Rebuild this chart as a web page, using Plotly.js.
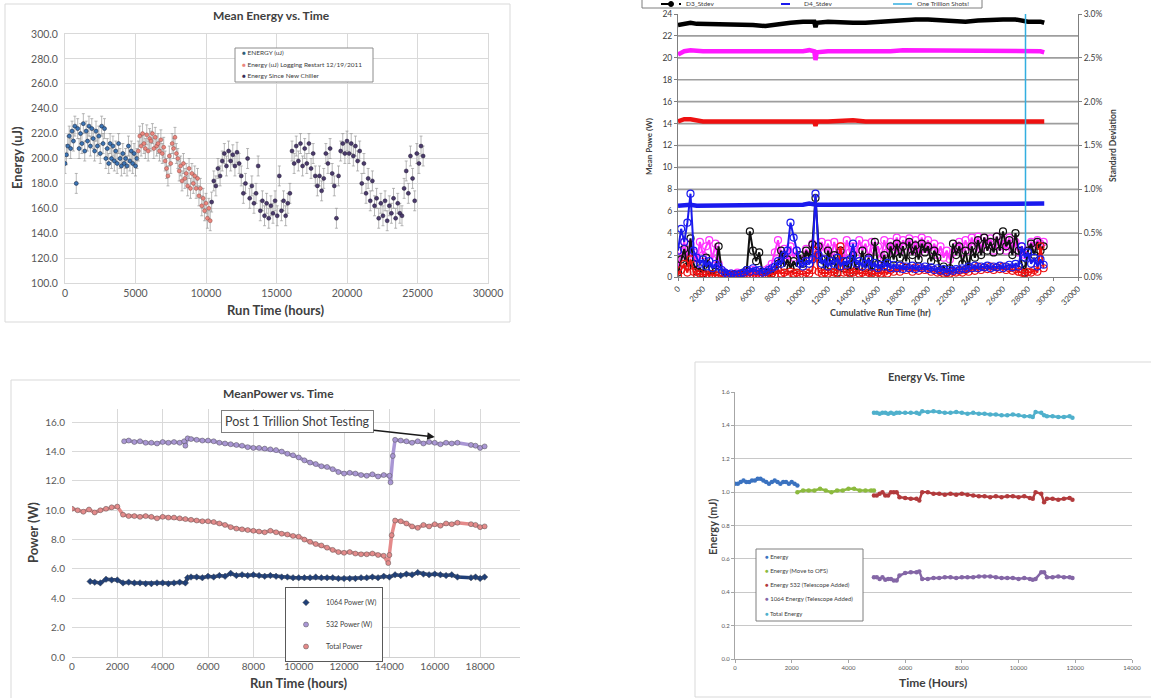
<!DOCTYPE html>
<html>
<head>
<meta charset="utf-8">
<script src="https://cdn.plot.ly/plotly-3.0.1.min.js"></script>
<style>html,body{margin:0;padding:0;background:#fff;}#chart{width:1151px;height:698px;}</style>
</head>
<body>
<div id="chart"></div>
<script>
// ---------------- Chart 1: Mean Energy vs. Time ----------------
const chart1Names = ["ENERGY (uJ)", "Energy (uJ) Logging Restart 12/19/2011", "Energy Since New Chiller"];
const energyHours = [0,100,200,300,400,500,600,700,800,900,1000,1100,1200,1300,1400,1500,1600,1700,1800,1900,2000,2100,2200,2300,2400,2500,2600,2700,2800,2900,3000,3100,3200,3300,3400,3500,3600,3700,3800,3900,4000,4100,4200,4300,4400,4500,4600,4700,4800,4900,5000,5100];
const energyUJ = [196,203,210,218,208,222,214,226,180,224,208,220,212,228,206,222,214,226,210,224,216,206,222,210,218,204,226,212,224,200,208,196,212,200,210,198,206,196,212,200,194,204,196,200,194,210,198,206,196,204,194,200];
const restartHours = [5200,5300,5400,5500,5600,5700,5800,5900,6000,6100,6200,6300,6400,6500,6600,6700,6800,6900,7000,7100,7200,7300,7400,7500,7600,7700,7800,7900,8000,8100,8200,8300,8400,8500,8600,8700,8800,8900,9000,9100,9200,9300,9400,9500,9600,9700,9800,9900,10000,10100,10200,10300];
const restartUJ = [206,218,210,220,212,208,219,206,216,214,220,208,217,210,212,206,215,204,209,198,192,186,202,196,212,208,217,204,200,190,194,182,196,184,188,178,192,176,188,180,186,176,184,170,176,162,168,158,164,152,160,150];
const chillerHours = [10400,10550,10700,10850,11000,11150,11300,11450,11600,11750,11900,12050,12200,12350,12500,12650,12800,12950,13100,13250,13400,13550,13700,13850,14000,14150,14300,14450,14600,14750,14900,15050,15200,15350,15500,15650,15800,15950,16100,16250,16400,16550,16700,16850,17000,17150,17300,17450,17600,17750,17900,18050,18200,18350,18500,18650,18800,18950,19100,19250,19400,19550,19700,19850,20000,20150,20300,20450,20600,20750,20900,21050,21200,21350,21500,21650,21800,21950,22100,22250,22400,22550,22700,22850,23000,23150,23300,23450,23600,23750,23900,24050,24200,24350,24500,24650,24800,24950,25100,25250,25400];
const chillerUJ = [165,182,178,192,186,198,204,194,206,198,203,194,205,196,186,172,180,200,168,178,164,172,194,158,166,154,164,152,162,156,166,154,186,158,166,154,164,172,206,196,210,198,212,194,208,196,212,192,204,186,178,186,174,184,204,196,208,188,178,152,186,206,212,204,214,204,212,202,210,198,206,180,196,172,184,166,182,162,168,152,164,154,166,150,162,156,168,152,164,156,154,176,190,172,202,184,166,204,196,210,202];

// ---------------- Chart 2: Mean power & standard deviation ----------------
const meanHours = [0,500,1000,1500,2000,3000,4000,5000,6000,7000,8000,9000,10000,10500,10900,11000,11100,12000,13000,14000,15000,16000,17000,18000,19000,20000,21000,22000,23000,24000,25000,26000,27000,28000,29000,29300];
const d3Mean = [23.0,23.1,23.2,23.1,23.1,23.0,23.0,23.0,23.0,22.9,23.1,23.2,23.3,23.3,23.3,22.8,23.2,23.3,23.2,23.2,23.2,23.3,23.4,23.5,23.5,23.5,23.4,23.3,23.3,23.4,23.5,23.5,23.5,23.3,23.3,23.2];
const d2Mean = [20.3,20.6,20.7,20.6,20.6,20.6,20.6,20.5,20.5,20.5,20.5,20.6,20.6,20.7,20.6,19.8,20.5,20.6,20.6,20.6,20.5,20.6,20.6,20.7,20.7,20.7,20.6,20.6,20.6,20.7,20.7,20.7,20.6,20.6,20.6,20.5];
const d1Mean = [14.2,14.4,14.4,14.3,14.2,14.2,14.2,14.2,14.2,14.2,14.2,14.3,14.3,14.2,14.2,13.8,14.2,14.2,14.3,14.3,14.2,14.2,14.2,14.2,14.2,14.2,14.2,14.2,14.2,14.2,14.2,14.2,14.2,14.2,14.2,14.2];
const d4Mean = [6.5,6.6,6.6,6.5,6.5,6.6,6.6,6.6,6.6,6.6,6.6,6.6,6.6,6.7,6.6,6.6,6.6,6.6,6.6,6.6,6.6,6.6,6.6,6.6,6.7,6.7,6.7,6.6,6.7,6.7,6.7,6.7,6.7,6.7,6.7,6.7];
const stdHours = [
  0,250,500,750,1000,1250,1500,1750,2000,2250,
  2500,2750,3000,3250,3500,3750,4000,4250,4500,4750,
  5000,5250,5500,5750,6000,6250,6500,6750,7000,7250,
  7500,7750,8000,8250,8500,8750,9000,9250,9500,9750,
  10000,10250,10500,10750,11000,11250,11500,11750,12000,12250,
  12500,12750,13000,13250,13500,13750,14000,14250,14500,14750,
  15000,15250,15500,15750,16000,16250,16500,16750,17000,17250,
  17500,17750,18000,18250,18500,18750,19000,19250,19500,19750,
  20000,20250,20500,20750,21000,21250,21500,21750,22000,22250,
  22500,22750,23000,23250,23500,23750,24000,24250,24500,24750,
  25000,25250,25500,25750,26000,26250,26500,26750,27000,27250,
  27500,27750,28000,28250,28500,28750,29000,29250];
const d3Std = [
  0.05,0.20,0.32,0.12,0.44,0.15,0.06,0.10,0.04,0.22,
  0.08,0.03,0.06,0.35,0.05,0.02,0.03,0.02,0.03,0.02,
  0.03,0.05,0.08,0.52,0.30,0.18,0.28,0.06,0.03,0.05,
  0.04,0.08,0.15,0.30,0.12,0.20,0.10,0.18,0.12,0.25,
  0.15,0.30,0.22,0.37,0.90,0.35,0.20,0.08,0.30,0.12,
  0.25,0.05,0.30,0.10,0.18,0.05,0.25,0.08,0.12,0.30,
  0.10,0.22,0.06,0.40,0.15,0.08,0.25,0.12,0.35,0.20,
  0.38,0.22,0.35,0.18,0.40,0.25,0.36,0.20,0.38,0.28,
  0.35,0.18,0.30,0.22,0.08,0.12,0.05,0.10,0.38,0.25,
  0.35,0.15,0.30,0.10,0.35,0.22,0.42,0.25,0.45,0.30,
  0.40,0.28,0.46,0.30,0.52,0.35,0.42,0.25,0.50,0.30,
  0.15,0.05,0.30,0.38,0.25,0.40,0.30,0.35];
const d2Std = [
  0.10,0.30,0.40,0.22,0.38,0.28,0.15,0.40,0.25,0.35,
  0.42,0.20,0.38,0.15,0.08,0.05,0.03,0.04,0.03,0.05,
  0.04,0.03,0.06,0.05,0.08,0.04,0.06,0.05,0.08,0.10,
  0.15,0.28,0.42,0.20,0.32,0.18,0.35,0.22,0.30,0.15,
  0.20,0.32,0.25,0.38,0.35,0.22,0.40,0.28,0.38,0.22,
  0.40,0.25,0.35,0.20,0.42,0.28,0.35,0.25,0.42,0.30,
  0.38,0.22,0.40,0.30,0.35,0.20,0.42,0.28,0.40,0.30,
  0.45,0.30,0.42,0.35,0.44,0.30,0.42,0.28,0.45,0.32,
  0.42,0.30,0.38,0.25,0.35,0.22,0.30,0.20,0.28,0.35,
  0.40,0.28,0.42,0.30,0.45,0.35,0.46,0.32,0.45,0.38,
  0.44,0.30,0.46,0.35,0.42,0.30,0.45,0.32,0.40,0.28,
  0.35,0.25,0.30,0.40,0.35,0.42,0.38,0.40];
const d1Std = [
  0.02,0.08,0.15,0.05,0.20,0.06,0.03,0.04,0.02,0.03,
  0.02,0.03,0.02,0.02,0.01,0.02,0.01,0.02,0.01,0.02,
  0.02,0.01,0.03,0.02,0.03,0.02,0.03,0.02,0.03,0.02,
  0.04,0.03,0.08,0.04,0.05,0.03,0.06,0.04,0.05,0.03,
  0.03,0.05,0.04,0.08,0.30,0.06,0.04,0.05,0.04,0.06,
  0.05,0.04,0.35,0.05,0.06,0.04,0.05,0.07,0.04,0.05,
  0.03,0.05,0.04,0.03,0.05,0.04,0.06,0.04,0.08,0.06,
  0.10,0.06,0.12,0.08,0.10,0.06,0.11,0.07,0.10,0.08,
  0.09,0.06,0.08,0.05,0.06,0.04,0.05,0.04,0.06,0.05,
  0.07,0.05,0.08,0.06,0.10,0.07,0.12,0.08,0.11,0.09,
  0.12,0.08,0.11,0.09,0.12,0.08,0.10,0.07,0.09,0.06,
  0.05,0.04,0.06,0.05,0.08,0.06,0.35,0.10];
const d4Std = [
  0.30,0.55,0.40,0.62,0.95,0.30,0.22,0.15,0.20,0.12,
  0.18,0.10,0.15,0.12,0.08,0.05,0.03,0.04,0.02,0.03,
  0.04,0.05,0.08,0.06,0.10,0.07,0.08,0.05,0.06,0.08,
  0.10,0.12,0.18,0.15,0.25,0.30,0.62,0.45,0.30,0.15,
  0.12,0.18,0.15,0.20,0.95,0.25,0.15,0.20,0.12,0.18,
  0.15,0.22,0.12,0.18,0.14,0.20,0.38,0.15,0.18,0.12,
  0.15,0.20,0.12,0.16,0.10,0.14,0.12,0.16,0.10,0.14,
  0.10,0.13,0.09,0.12,0.10,0.13,0.09,0.12,0.10,0.12,
  0.09,0.11,0.08,0.10,0.07,0.09,0.06,0.08,0.07,0.09,
  0.08,0.10,0.09,0.12,0.10,0.13,0.10,0.12,0.11,0.13,
  0.10,0.12,0.11,0.13,0.10,0.12,0.14,0.11,0.15,0.12,
  0.35,0.22,0.28,0.15,0.22,0.12,0.20,0.14];
const trillionHours = [27800, 27800];
const trillionPower = [0, 24];
const chart2Names = ["D3_Stdev", "D4_Stdev", "One Trillion Shots!"];

// ---------------- Chart 3: MeanPower vs. Time ----------------
const chart3Names = ["1064 Power (W)", "532 Power (W)", "Total Power"];
const p1064Hours = [800,1000,1250,1500,1750,2000,2250,2500,2750,3000,3250,3500,3750,4000,4250,4500,4750,5000,5100,5250,5500,5750,6000,6250,6500,6750,7000,7250,7500,7750,8000,8250,8500,8750,9000,9250,9500,9750,10000,10250,10500,10750,11000,11250,11500,11750,12000,12250,12500,12750,13000,13250,13500,13750,14000,14250,14500,14750,15000,15250,15500,15750,16000,16250,16500,16750,17000,17600,17800,18000,18200];
const p1064W = [5.15,5.10,5.05,5.30,5.25,5.25,5.05,5.10,5.05,5.05,5.00,5.00,5.05,5.05,5.00,5.05,5.10,5.05,5.40,5.45,5.45,5.40,5.50,5.45,5.55,5.50,5.70,5.55,5.60,5.55,5.60,5.55,5.50,5.55,5.50,5.45,5.45,5.40,5.40,5.40,5.40,5.45,5.40,5.40,5.40,5.35,5.35,5.35,5.35,5.40,5.40,5.45,5.40,5.50,5.45,5.60,5.55,5.65,5.60,5.75,5.65,5.60,5.65,5.60,5.55,5.60,5.45,5.40,5.45,5.35,5.45];
const p532Hours = [2300,2500,2750,3000,3250,3500,3750,4000,4250,4500,4750,4950,5000,5100,5250,5500,5750,6000,6250,6500,6750,7000,7250,7500,7750,8000,8250,8500,8750,9000,9250,9500,9750,10000,10250,10500,10750,11000,11250,11500,11750,12000,12250,12500,12750,13000,13250,13500,13750,14000,14050,14150,14250,14500,14750,15000,15250,15500,15750,16000,16250,16500,16750,17000,17600,17800,18000,18200];
const p532W = [14.70,14.75,14.65,14.70,14.60,14.60,14.55,14.65,14.60,14.65,14.60,14.70,14.40,14.90,14.85,14.80,14.75,14.75,14.70,14.60,14.55,14.50,14.45,14.40,14.30,14.25,14.25,14.20,14.15,14.10,14.00,13.85,13.75,13.60,13.40,13.25,13.15,13.00,12.95,12.80,12.60,12.50,12.55,12.50,12.40,12.35,12.45,12.30,12.40,12.35,11.90,13.70,14.80,14.75,14.70,14.60,14.70,14.55,14.65,14.60,14.50,14.60,14.55,14.60,14.45,14.40,14.25,14.35];
const totalHours = [0,250,500,750,1000,1250,1500,1750,2000,2250,2500,2750,3000,3250,3500,3750,4000,4250,4500,4750,5000,5250,5500,5750,6000,6250,6500,6750,7000,7250,7500,7750,8000,8250,8500,8750,9000,9250,9500,9750,10000,10250,10500,10750,11000,11250,11500,11750,12000,12250,12500,12750,13000,13250,13500,13750,13950,14000,14100,14250,14500,14750,15000,15250,15500,15750,16000,16250,16500,16750,17000,17600,17800,18000,18200];
const totalW = [10.10,10.00,9.90,10.05,9.85,10.00,10.10,10.20,10.25,9.70,9.60,9.60,9.55,9.60,9.55,9.45,9.55,9.50,9.50,9.45,9.40,9.35,9.30,9.25,9.25,9.20,9.10,9.00,8.85,8.75,8.70,8.65,8.60,8.55,8.50,8.60,8.50,8.40,8.35,8.25,8.20,8.00,7.85,7.70,7.60,7.45,7.30,7.15,7.10,7.15,7.05,7.00,7.00,7.05,6.95,6.90,6.40,6.95,8.30,9.30,9.25,9.10,8.90,8.80,9.00,8.90,9.05,8.95,9.10,9.05,9.15,9.05,9.00,8.85,8.90];

// ---------------- Chart 4: Energy Vs. Time ----------------
const chart4Names = ["Energy", "Energy (Move to OFS)", "Energy 532 (Telescope Added)", "1064 Energy (Telescope Added)", "Total Energy"];
const baseHours = [0,100,200,300,400,500,600,700,800,900,1000,1100,1200,1300,1400,1500,1600,1700,1800,1900,2000,2100,2200];
const baseMJ = [1.05,1.05,1.06,1.07,1.06,1.06,1.07,1.07,1.08,1.08,1.07,1.06,1.05,1.06,1.07,1.06,1.05,1.06,1.06,1.05,1.06,1.05,1.04];
const ofsHours = [2200,2400,2600,2800,3000,3200,3400,3600,3800,4000,4200,4400,4600,4800,4900];
const ofsMJ = [1.00,1.01,1.01,1.01,1.02,1.01,1.00,1.01,1.01,1.02,1.02,1.01,1.01,1.01,1.01];
const telHours = [4900,5000,5100,5200,5300,5400,5500,5600,5700,5800,6000,6200,6400,6500,6600,6800,7000,7200,7400,7600,7800,8000,8200,8400,8600,8800,9000,9200,9400,9600,9800,10000,10200,10400,10500,10600,10800,10900,11000,11200,11400,11600,11800,11900];
const e532MJ = [0.98,0.98,0.99,1.00,0.98,0.98,1.00,1.00,1.00,0.97,0.965,0.96,0.96,0.95,1.00,1.00,0.99,0.99,0.985,0.99,0.985,0.99,0.985,0.98,0.975,0.975,0.97,0.975,0.97,0.975,0.975,0.97,0.975,0.965,0.96,1.00,0.99,0.94,0.96,0.96,0.955,0.96,0.965,0.955];
const e1064MJ = [0.49,0.49,0.48,0.49,0.475,0.48,0.48,0.47,0.47,0.50,0.515,0.52,0.52,0.525,0.48,0.48,0.485,0.485,0.49,0.49,0.485,0.49,0.49,0.49,0.495,0.495,0.495,0.49,0.485,0.485,0.485,0.48,0.485,0.48,0.475,0.48,0.52,0.52,0.49,0.49,0.495,0.49,0.49,0.485];
const eTotalMJ = [1.475,1.475,1.47,1.475,1.475,1.47,1.475,1.47,1.475,1.475,1.475,1.475,1.475,1.47,1.485,1.48,1.485,1.48,1.475,1.475,1.48,1.475,1.47,1.475,1.47,1.47,1.465,1.465,1.46,1.46,1.465,1.46,1.455,1.455,1.45,1.48,1.475,1.46,1.455,1.455,1.45,1.45,1.455,1.445];

// ---------------- helpers ----------------
const W = 1151, H = 698;
const px = v => v / W;
const py = v => 1 - v / H;
const FONT = "Lato, 'Open Sans', 'Liberation Sans', sans-serif";
const TXT = '#404040';

const eb = {type:'constant', value:8, color:'#9a9a9a', thickness:0.7, width:1.5};
const traces = [];
// Chart 1
traces.push({x:energyHours, y:energyUJ, xaxis:'x', yaxis:'y', mode:'markers', name:chart1Names[0], showlegend:false,
  marker:{size:4, color:'#3b74b4', line:{width:0.6, color:'#1d2e4a'}}, error_y:eb});
traces.push({x:restartHours, y:restartUJ, xaxis:'x', yaxis:'y', mode:'markers', name:chart1Names[1], showlegend:false,
  marker:{size:4, color:'#ea857d', line:{width:0.4, color:'#7a3a36'}}, error_y:eb});
traces.push({x:chillerHours, y:chillerUJ, xaxis:'x', yaxis:'y', mode:'markers', name:chart1Names[2], showlegend:false,
  marker:{size:4, color:'#4a3a6c', line:{width:0.5, color:'#231a35'}}, error_y:eb});

// Chart 2 means
const meanSets = [[d3Mean,'#000000'],[d2Mean,'#ff19ff'],[d1Mean,'#ee1111'],[d4Mean,'#1a1aee']];
meanSets.forEach(([ys,c]) => traces.push({x:meanHours, y:ys, xaxis:'x2', yaxis:'y2', mode:'lines', showlegend:false,
  line:{color:c, width:4.5}}));
const stdSets = [[d2Std,'#ff33ff'],[d3Std,'#111111'],[d1Std,'#ee1111'],[d4Std,'#1a1aee']];
stdSets.forEach(([ys,c]) => traces.push({x:stdHours, y:ys, xaxis:'x2', yaxis:'y5', mode:'lines+markers', showlegend:false,
  line:{color:c, width:2}, marker:{symbol:'circle-open', size:7, color:c, line:{width:1.2}}}));
traces.push({x:trillionHours, y:trillionPower, xaxis:'x2', yaxis:'y2', mode:'lines', name:chart2Names[2], showlegend:false,
  line:{color:'#33aee0', width:1.5}});

// Chart 3 (dense band drawn as a line, points on top)
const c3 = [[p1064Hours, p1064W, '#1f3f78', 'diamond'], [p532Hours, p532W, '#a996d4', 'circle'], [totalHours, totalW, '#e48a8a', 'circle']];
c3.forEach(([xs, ys, c]) => traces.push({x:xs, y:ys, xaxis:'x3', yaxis:'y3', mode:'lines', showlegend:false, hoverinfo:'skip',
  line:{color:c, width:3.5}}));
c3.forEach(([xs, ys, c, sym], i) => traces.push({x:xs, y:ys, xaxis:'x3', yaxis:'y3', mode:'markers', name:chart3Names[i], legendgroup:'g' + i,
  marker:{size:5, symbol:sym, color:c, line:{width:0.5, color:'#555'}}}));

// Chart 4
const c4 = [[baseHours, baseMJ, '#3a72c0'], [ofsHours, ofsMJ, '#8cba3e'], [telHours, e532MJ, '#b23a3c'], [telHours, e1064MJ, '#8466a6'], [telHours, eTotalMJ, '#4fb0cc']];
c4.forEach(([xs, ys, c], i) => traces.push({x:xs, y:ys, xaxis:'x4', yaxis:'y4', mode:'lines+markers', name:chart4Names[i], showlegend:false,
  line:{color:c, width:2.4}, marker:{size:4.5, color:c}}));

// ---------------- axes ----------------
const tf = (s, c) => ({size:s, color:c || '#595959', family:FONT});
const layout = {
  width:W, height:H, margin:{l:0, r:0, t:0, b:0, autoexpand:false},
  paper_bgcolor:'#ffffff', plot_bgcolor:'rgba(0,0,0,0)', font:{family:FONT, color:TXT},
  xaxis:{domain:[px(65), px(488)], anchor:'y', range:[0,30000], dtick:5000, tick0:0, tickformat:'d', showgrid:true, gridcolor:'#d9d9d9',
    zeroline:false, showline:true, mirror:true, linecolor:'#d9d9d9', tickfont:tf(10.5), ticks:''},
  yaxis:{domain:[py(283), py(34)], anchor:'x', range:[100,300], dtick:20, tickformat:'.1f', showgrid:true, gridcolor:'#d9d9d9',
    zeroline:false, showline:true, mirror:true, linecolor:'#d9d9d9', tickfont:tf(10.5), ticks:'', ticklabelstandoff:4},
  xaxis2:{domain:[px(678), px(1078)], anchor:'y2', range:[0,32000], dtick:2000, tick0:0, tickformat:'d', tickangle:-45, showgrid:false,
    zeroline:false, showline:true, linecolor:'#7f7f7f', ticks:'outside', ticklen:3, tickcolor:'#7f7f7f', tickfont:tf(8,'#404040')},
  yaxis2:{domain:[py(277), py(14)], anchor:'x2', range:[0,24], dtick:2, tick0:0, showgrid:false,
    zeroline:false, showline:true, linecolor:'#7f7f7f', ticks:'outside', ticklen:3, tickcolor:'#7f7f7f', tickfont:tf(8.5,'#404040')},
  yaxis5:{overlaying:'y2', side:'right', anchor:'x2', range:[0,3], dtick:0.5, tick0:0, tickformat:'.1f', ticksuffix:'%', showgrid:false,
    zeroline:false, showline:true, linecolor:'#7f7f7f', ticks:'outside', ticklen:3, tickcolor:'#7f7f7f', tickfont:tf(8.5,'#404040')},
  xaxis3:{domain:[px(72), px(520)], anchor:'y3', range:[0,19760], dtick:2000, tick0:0, tickformat:'d', showgrid:true, gridcolor:'#d9d9d9',
    zeroline:false, showline:true, linecolor:'#d0d0d0', ticks:'', tickfont:tf(10)},
  yaxis3:{domain:[py(657), py(409)], anchor:'x3', range:[0,16.9], dtick:2, tickformat:'.1f', showgrid:true, gridcolor:'#d9d9d9',
    zeroline:false, showline:false, ticks:'', tickfont:tf(10), ticklabelstandoff:6},
  xaxis4:{domain:[px(735), px(1132)], anchor:'y4', range:[0,14000], dtick:2000, tick0:0, tickformat:'d', showgrid:false,
    zeroline:false, showline:true, linecolor:'#a6a6a6', ticks:'outside', ticklen:3, tickcolor:'#a6a6a6', tickfont:tf(6)},
  yaxis4:{domain:[py(659), py(392)], anchor:'x4', range:[0,1.6], dtick:0.2, tickformat:'.1f', showgrid:true, gridcolor:'#c8c8c8',
    zeroline:false, showline:true, linecolor:'#a6a6a6', ticks:'outside', ticklen:3, tickcolor:'#a6a6a6', tickfont:tf(6)},
  showlegend:true,
  legend:{x:px(285), y:py(587), xanchor:'left', yanchor:'top', bgcolor:'#ffffff', bordercolor:'#595959', borderwidth:1,
    font:{size:7, color:TXT, family:FONT}, tracegroupgap:3, itemwidth:30},
  shapes:[], annotations:[]
};

const S = layout.shapes, A = layout.annotations;
const rect = (x0,y0,x1,y1,lc,fill) => S.push({type:'rect', xref:'paper', yref:'paper', x0:px(x0), x1:px(x1), y0:py(y1), y1:py(y0),
  line:{color:lc, width:1}, fillcolor:fill || 'rgba(0,0,0,0)', layer:'below'});
const seg = (x0,y0,x1,y1,c,w,dash) => S.push({type:'line', xref:'paper', yref:'paper', x0:px(x0), x1:px(x1), y0:py(y0), y1:py(y1),
  line:{color:c, width:w, dash:dash || 'solid'}, layer:'above'});
const txt = (t, x, y, size, o) => A.push(Object.assign({text:t, xref:'paper', yref:'paper', x:px(x), y:py(y), showarrow:false,
  xanchor:'center', yanchor:'middle', font:{size:size, color:TXT, family:FONT}}, o || {}));

// chart 2 horizontal gridlines at every y2 tick (2 W) inside the range
for (let g = layout.yaxis2.dtick; g < layout.yaxis2.range[1]; g += layout.yaxis2.dtick) {
  S.push({type:'line', xref:'x2 domain', yref:'y2', x0:0, x1:1, y0:g, y1:g, line:{color:'#9e9e9e', width:1.6}, layer:'below'});
}

// outer frames
rect(5, 4, 510, 322, '#d9d9d9');
S.push({type:'path', xref:'paper', yref:'paper', path:`M ${px(11)},${py(700)} L ${px(11)},${py(380)} L ${px(520)},${py(380)}`, line:{color:'#d9d9d9', width:1}});
S.push({type:'path', xref:'paper', yref:'paper', path:`M ${px(1152)},${py(362)} L ${px(695)},${py(362)} L ${px(695)},${py(697)} L ${px(1152)},${py(697)}`, line:{color:'#d9d9d9', width:1}});

// chart titles and axis titles
txt('<b>Mean Energy vs. Time</b>', 271, 16, 12);
txt('<b>Run Time (hours)</b>', 276, 310, 13);
txt('<b>Energy (uJ)</b>', 17, 158, 13, {textangle:-90});
txt('<b>Mean Powe (W)</b>', 649, 147, 8, {textangle:-90});
txt('<b>Standard Deviation</b>', 1113, 146, 8.5, {textangle:-90});
txt('<b>Cumulative Run Time (hr)</b>', 880, 312, 9);
txt('<b>MeanPower vs. Time</b>', 278, 393, 12);
txt('<b>Run Time (hours)</b>', 299, 683, 13);
txt('<b>Power (W)</b>', 33, 533, 13, {textangle:-90});
txt('<b>Energy Vs. Time</b>', 926, 376, 11);
txt('<b>Time (Hours)</b>', 933, 682, 12);
txt('<b>Energy (mJ)</b>', 712, 527, 11, {textangle:-90});

// chart 1 legend (manual, compact like the source)
S.push({type:'rect', xref:'paper', yref:'paper', x0:px(235), x1:px(373), y0:py(82), y1:py(48), line:{color:'#8c8c8c', width:1}, fillcolor:'#ffffff', layer:'above'});
const c1Cols = ['#2d5f7a', '#ea857d', '#3a2d58'];
chart1Names.forEach((n, i) => txt(`<span style="color:${c1Cols[i]}">●</span> ${n}`, 240, 53 + i * 11, 6.5, {xanchor:'left'}));

// chart 2 legend (top is cut off in the source)
S.push({type:'rect', xref:'paper', yref:'paper', x0:px(642), x1:px(982), y0:py(8), y1:py(-14), line:{color:'#7f7f7f', width:1}, fillcolor:'#ffffff', layer:'above'});
seg(661, 4, 681, 4, '#000000', 2, 'dash');
S.push({type:'circle', xref:'paper', yref:'paper', x0:px(668.5), x1:px(673.5), y0:py(6.5), y1:py(1.5), line:{color:'#000', width:1}, fillcolor:'#000', layer:'above'});
seg(781, 4, 799, 4, '#1a1aee', 2, 'dash');
seg(893, 4, 912, 4, '#33aee0', 1.5);
txt(chart2Names[0], 684, 4, 6.5, {xanchor:'left'});
txt(chart2Names[1], 802, 4, 6.5, {xanchor:'left'});
txt(chart2Names[2], 915, 4, 6.5, {xanchor:'left'});

// chart 4 legend (manual)
S.push({type:'rect', xref:'paper', yref:'paper', x0:px(756), x1:px(863), y0:py(621), y1:py(549), line:{color:'#7f7f7f', width:1}, fillcolor:'#ffffff', layer:'above'});
chart4Names.forEach((n, i) => txt(`<span style="color:${c4[i][2]}">●</span> ${n}`, 763, 556 + i * 14.3, 6, {xanchor:'left'}));

// chart 3 callout
A.push({text:'Post 1 Trillion Shot Testing', xref:'x3', yref:'y3', x:16000, y:15.0, ax:-137, ay:-15, showarrow:true,
  arrowhead:2, arrowsize:1, arrowwidth:1.5, arrowcolor:'#1a1a1a', bordercolor:'#7f7f7f', borderwidth:1, borderpad:3,
  bgcolor:'#ffffff', font:{size:12.5, color:TXT, family:FONT}});

Plotly.newPlot('chart', traces, layout, {displayModeBar:false, staticPlot:true});
</script>
</body>
</html>
